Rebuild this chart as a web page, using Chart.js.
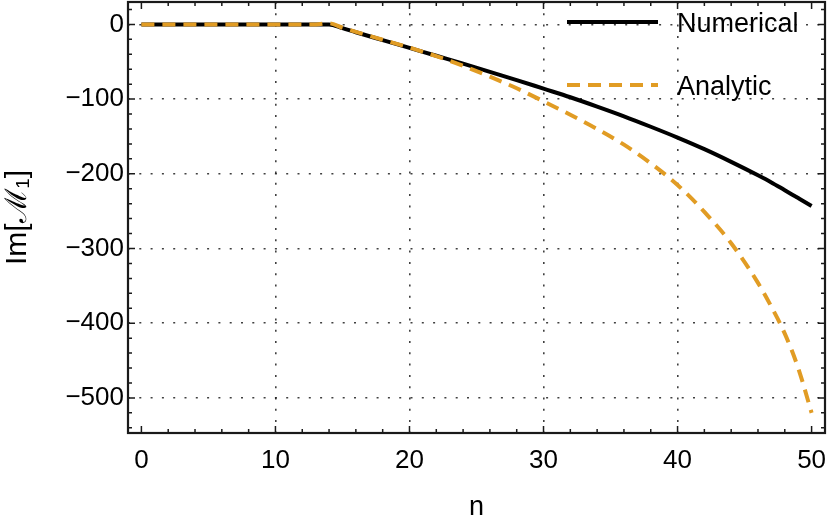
<!DOCTYPE html>
<html>
<head>
<meta charset="utf-8">
<script src="https://cdn.jsdelivr.net/npm/chart.js@4.4.0/dist/chart.umd.min.js"></script>
<style>
  html, body { margin: 0; padding: 0; background: #fff; }
  #wrap { width: 830px; height: 521px; }
</style>
</head>
<body>
<div id="wrap"><canvas id="plot" width="830" height="521"></canvas></div>
<script>
// values
const nValues   = [0, 2, 4, 6, 8, 10, 12, 13, 14, 15, 16, 18, 20, 22, 24, 26, 28, 30, 32, 34, 36, 38, 40, 42, 44, 46, 47, 48, 49, 50];
const numerical = [0, 0, 0, 0, 0, 0, 0, 0, 0, -5, -10.5, -21, -31.5, -42, -52.5, -63.5, -74.5, -86, -97.5, -110, -123, -137, -151.5, -167, -184, -202, -211.5, -222, -232.5, -243];
const analytic  = [0, 0, 0, 0, 0, 0, 0, 0, 1.5, -4.5, -10, -20.5, -31, -42.5, -55.5, -70, -85.5, -103, -121, -140, -161, -186, -215, -251, -293, -346, -378, -414, -460, -520];

const xTicks = [0, 10, 20, 30, 40, 50];
const yTicks = [0, -100, -200, -300, -400, -500];
const xGrid = [10, 20, 30, 40];

const FONT = '"Liberation Sans", Arial, Helvetica, sans-serif';
const ORANGE = '#e19c24';

const toPoints = (ys) => nValues.map((n, i) => ({ x: n, y: ys[i] }));
const fmt = (v) => (v < 0 ? '\u2212' + Math.abs(v) : String(v));

// frame with inward ticks on all four sides, plus the legend inside the plot
const frameAndLegend = {
  id: 'frameAndLegend',
  afterDraw(chart) {
    const { ctx, chartArea: a, scales: { x, y } } = chart;
    ctx.save();
    ctx.strokeStyle = '#1a1a1a';
    ctx.lineWidth = 1.5;
    ctx.beginPath();
    for (let v = 0; v <= 50; v += 2) {
      const px = x.getPixelForValue(v);
      const len = v % 10 === 0 ? 7 : 4;
      ctx.moveTo(px, a.bottom); ctx.lineTo(px, a.bottom - len);
      ctx.moveTo(px, a.top); ctx.lineTo(px, a.top + len);
    }
    for (let v = -540; v <= 20; v += 20) {
      const py = y.getPixelForValue(v);
      const len = v % 100 === 0 ? 7 : 4;
      ctx.moveTo(a.left, py); ctx.lineTo(a.left + len, py);
      ctx.moveTo(a.right, py); ctx.lineTo(a.right - len, py);
    }
    ctx.stroke();
    ctx.lineWidth = 2.2;
    ctx.strokeRect(a.left, a.top, a.right - a.left, a.bottom - a.top);

    // legend
    const rows = [chart.data.datasets[1], chart.data.datasets[0]];
    ctx.font = '27px ' + FONT;
    ctx.textBaseline = 'middle';
    ctx.fillStyle = '#000';
    rows.forEach((ds, i) => {
      const ly = a.top + 20 + i * 63;
      ctx.beginPath();
      ctx.strokeStyle = ds.borderColor;
      ctx.lineWidth = ds.borderWidth;
      ctx.setLineDash(ds.borderDash || []);
      ctx.moveTo(a.right - 258, ly);
      ctx.lineTo(a.right - 167, ly);
      ctx.stroke();
      ctx.setLineDash([]);
      ctx.fillText(ds.label, a.right - 148, ly + 3);
    });
    ctx.restore();
  }
};

new Chart(document.getElementById('plot'), {
  type: 'line',
  data: {
    datasets: [{
      label: 'Analytic',
      data: toPoints(analytic),
      borderColor: ORANGE,
      borderWidth: 4,
      borderDash: [13, 8],
      pointRadius: 0,
      cubicInterpolationMode: 'monotone',
      order: 0
    }, {
      label: 'Numerical',
      data: toPoints(numerical),
      borderColor: '#000',
      borderWidth: 4,
      pointRadius: 0,
      cubicInterpolationMode: 'monotone',
      order: 1
    }]
  },
  options: {
    responsive: false,
    animation: false,
    devicePixelRatio: 1,
    layout: { padding: { top: 2, right: 5, left: 0, bottom: 0 } },
    plugins: {
      legend: { display: false },
      tooltip: { enabled: false }
    },
    scales: {
      x: {
        type: 'linear',
        min: -1,
        max: 51,
        afterBuildTicks: (s) => { s.ticks = xTicks.map((v) => ({ value: v })); },
        afterFit: (s) => { s.height = 88; s.paddingLeft = 0; s.paddingRight = 0; },
        ticks: {
          callback: (v) => fmt(v),
          color: '#000',
          padding: 12,
          maxRotation: 0,
          font: { family: FONT, size: 26 }
        },
        grid: {
          drawTicks: false,
          lineWidth: 1.6,
          color: (c) => (c.tick && xGrid.includes(c.tick.value) ? 'rgba(0,0,0,0.75)' : 'rgba(0,0,0,0)')
        },
        border: { display: false, dash: [2, 9.3] },
        title: {
          display: true,
          text: 'n',
          color: '#000',
          font: { family: FONT, size: 27 },
          padding: { top: 0, bottom: -3 }
        }
      },
      y: {
        type: 'linear',
        min: -547,
        max: 30,
        afterBuildTicks: (s) => { s.ticks = yTicks.map((v) => ({ value: v })); },
        afterFit: (s) => { s.width = 128; s.paddingTop = 0; s.paddingBottom = 0; },
        ticks: {
          callback: (v) => fmt(v),
          color: '#000',
          padding: 4,
          font: { family: FONT, size: 26 }
        },
        grid: {
          drawTicks: false,
          lineWidth: 1.6,
          color: 'rgba(0,0,0,0.75)'
        },
        border: { display: false, dash: [2, 9.3] },
        title: {
          display: true,
          text: 'Im[\u2133\u2081]',
          color: '#000',
          font: { family: FONT, size: 30 },
          padding: { top: 0, bottom: 0 }
        }
      }
    }
  },
  plugins: [frameAndLegend]
});
</script>
</body>
</html>
